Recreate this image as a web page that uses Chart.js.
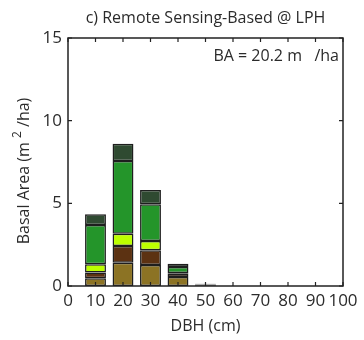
<!DOCTYPE html>
<html>
<head>
<meta charset="utf-8">
<script src="https://cdn.jsdelivr.net/npm/chart.js@4/dist/chart.umd.min.js"></script>
<style>
html,body{margin:0;padding:0;background:#fff;}
#wrap{width:364px;height:340px;}
</style>
</head>
<body>
<div id="wrap"><canvas id="c" width="364" height="340"></canvas></div>
<script>
const dbhCenters = [10, 20, 30, 40, 50];
const olive     = [0.47, 1.41, 1.27, 0.54, 0.04];
const brown     = [0.34, 1.01, 0.89, 0.20, 0.03];
const lime      = [0.50, 0.74, 0.56, 0.05, 0.00];
const green     = [2.38, 4.40, 2.22, 0.36, 0.02];
const darkGreen = [0.65, 1.05, 0.87, 0.20, 0.04];
const xTicks = [0,10,20,30,40,50,60,70,80,90,100];
const yTicks = [0,5,10,15];
const titleText = 'c) Remote Sensing-Based @ LPH';
const baText = 'BA = 20.2 m   /ha';

const TXT = '#2b2b2b';
const FONT = "'Open Sans', 'Noto Sans', sans-serif";

function ds(vals, color) {
  return {
    data: dbhCenters.map((x, i) => ({x: x, y: vals[i]})),
    backgroundColor: color,
    borderColor: '#1e1e1e',
    borderWidth: 1.5,
    borderSkipped: false,
    barPercentage: 0.76,
    categoryPercentage: 1.0
  };
}

const framePlugin = {
  id: 'frame',
  afterDatasetsDraw(chart) {
    const {ctx, chartArea: a, scales} = chart;
    ctx.save();
    ctx.strokeStyle = '#222';
    ctx.lineWidth = 1.5;
    ctx.strokeRect(a.left, a.top, a.right - a.left, a.bottom - a.top);
    ctx.lineWidth = 1.2;
    const tl = 4;
    ctx.beginPath();
    xTicks.forEach(v => {
      const px = scales.x.getPixelForValue(v);
      ctx.moveTo(px, a.bottom); ctx.lineTo(px, a.bottom - tl);
      ctx.moveTo(px, a.top); ctx.lineTo(px, a.top + tl);
    });
    yTicks.forEach(v => {
      const py = scales.y.getPixelForValue(v);
      ctx.moveTo(a.left, py); ctx.lineTo(a.left + tl, py);
      ctx.moveTo(a.right, py); ctx.lineTo(a.right - tl, py);
    });
    ctx.stroke();
    ctx.fillStyle = TXT;
    // chart title, centred over the plot area
    ctx.font = "16px " + FONT;
    ctx.textAlign = 'center';
    ctx.textBaseline = 'middle';
    ctx.fillText(titleText, (a.left + a.right) / 2, 18);
    // annotation
    ctx.font = "16px " + FONT;
    ctx.textAlign = 'right';
    ctx.fillText(baText, a.right - 4, a.top + 18);
    // y-axis title with raised exponent
    ctx.translate(24, 171);
    ctx.rotate(-Math.PI / 2);
    const p1 = 'Basal Area (m ', p2 = '2', p3 = ' /ha)';
    ctx.font = "16px " + FONT;
    const w1 = ctx.measureText(p1).width, w3 = ctx.measureText(p3).width;
    ctx.font = "12px " + FONT;
    const w2 = ctx.measureText(p2).width;
    const total = w1 + w2 + w3;
    let x0 = -total / 2;
    ctx.textAlign = 'left';
    ctx.font = "16px " + FONT;
    ctx.fillText(p1, x0, 0);
    ctx.font = "12px " + FONT;
    ctx.fillText(p2, x0 + w1, -6);
    ctx.font = "16px " + FONT;
    ctx.fillText(p3, x0 + w1 + w2, 0);
    ctx.restore();
  }
};

new Chart(document.getElementById('c'), {
  type: 'bar',
  data: {
    datasets: [
      ds(olive, '#8c7324'),
      ds(brown, '#5c3212'),
      ds(lime, '#bcff00'),
      ds(green, '#24952a'),
      ds(darkGreen, '#2f4a31')
    ]
  },
  options: {
    responsive: false,
    animation: false,
    devicePixelRatio: 1,
    layout: {padding: {left: 0, right: 21, top: 38, bottom: 0}},
    plugins: {
      legend: {display: false},
      tooltip: {enabled: false},
      title: {display: false}
    },
    scales: {
      x: {
        type: 'linear',
        stacked: true,
        min: 0, max: 100,
        offset: false,
        grid: {display: false, drawTicks: false},
        border: {display: false},
        afterBuildTicks(s) { s.ticks = xTicks.map(v => ({value: v})); },
        ticks: {color: TXT, font: {family: FONT, size: 17}, padding: 5, maxRotation: 0, autoSkip: false},
        title: {display: true, text: 'DBH (cm)', color: TXT, font: {family: FONT, size: 16}, padding: {top: 0, bottom: 4}},
        afterFit(s) { s.height = 54; }
      },
      y: {
        stacked: true,
        min: 0, max: 15,
        grid: {display: false, drawTicks: false},
        border: {display: false},
        afterBuildTicks(s) { s.ticks = yTicks.map(v => ({value: v})); },
        ticks: {color: TXT, font: {family: FONT, size: 17}, padding: 6},
        title: {display: false},
        afterFit(s) { s.width = 68; }
      }
    }
  },
  plugins: [framePlugin]
});
</script>
</body>
</html>
